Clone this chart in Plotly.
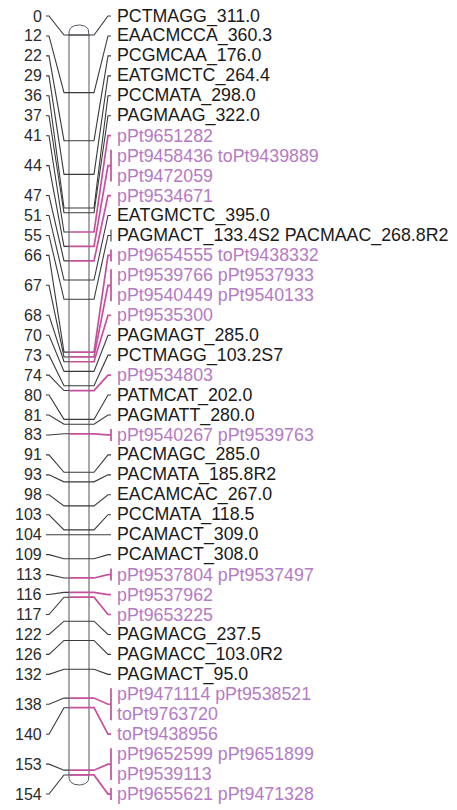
import numpy as np
import plotly.graph_objects as go

# ---------------- data ----------------
positions_cm = [0, 12, 22, 29, 36, 37, 41, 44, 47, 51, 55, 66, 67, 68, 70, 73, 74, 80, 81, 83,
                91, 93, 98, 103, 104, 109, 113, 116, 117, 122, 126, 132, 138, 140, 153, 154]

marker_rows = [
    ["PCTMAGG_311.0"],
    ["EAACMCCA_360.3"],
    ["PCGMCAA_176.0"],
    ["EATGMCTC_264.4"],
    ["PCCMATA_298.0"],
    ["PAGMAAG_322.0"],
    ["pPt9651282"],
    ["pPt9458436 toPt9439889", "pPt9472059"],
    ["pPt9534671"],
    ["EATGMCTC_395.0"],
    ["PAGMACT_133.4S2 PACMAAC_268.8R2"],
    ["pPt9654555 toPt9438332"],
    ["pPt9539766 pPt9537933", "pPt9540449 pPt9540133"],
    ["pPt9535300"],
    ["PAGMAGT_285.0"],
    ["PCTMAGG_103.2S7"],
    ["pPt9534803"],
    ["PATMCAT_202.0"],
    ["PAGMATT_280.0"],
    ["pPt9540267 pPt9539763"],
    ["PACMAGC_285.0"],
    ["PACMATA_185.8R2"],
    ["EACAMCAC_267.0"],
    ["PCCMATA_118.5"],
    ["PCAMACT_309.0"],
    ["PCAMACT_308.0"],
    ["pPt9537804 pPt9537497"],
    ["pPt9537962"],
    ["pPt9653225"],
    ["PAGMACG_237.5"],
    ["PAGMACC_103.0R2"],
    ["PAGMACT_95.0"],
    ["pPt9471114 pPt9538521", "toPt9763720"],
    ["toPt9438956"],
    ["pPt9652599 pPt9651899", "pPt9539113"],
    ["pPt9655621 pPt9471328"],
]

tick_labels = [str(p) for p in positions_cm]

# ---------------- layout helpers ----------------
W, H = 457, 810
PX_PER_CM = 4.805
CM0_PX = 35.0
ROW0_PX = 16.0
ROW_STEP_PX = 19.95


def px_to_cm(px):
    return (px - CM0_PX) / PX_PER_CM


Y_RANGE = [px_to_cm(H), px_to_cm(0)]

BAR_L, BAR_R = 69, 89
LEFT_TXT_X = 44
RIGHT_TXT_X = 115

DARK = "#3a3a3a"
BAR_COL = "#4f5563"
PINK_LINE = "#c4509e"
PINK_TXT = "#b57ac4"
BLACK_TXT = "#1a1a1a"

fig = go.Figure()

# row positions
row_idx = 0
groups = []
for cm, rows in zip(positions_cm, marker_rows):
    idxs = list(range(row_idx, row_idx + len(rows)))
    row_idx += len(rows)
    ys = [px_to_cm(ROW0_PX + ROW_STEP_PX * i) for i in idxs]
    is_pink = rows[0].startswith("pPt") or rows[0].startswith("toPt")
    n_names = sum(len(r.split()) for r in rows)
    groups.append(dict(cm=cm, rows=rows, ys=ys, pink=is_pink, multi=n_names > 1))

# chromosome body (white fill)
fig.add_trace(go.Scatter(
    x=[BAR_L, BAR_R, BAR_R, BAR_L, BAR_L],
    y=[positions_cm[0], positions_cm[0], positions_cm[-1], positions_cm[-1], positions_cm[0]],
    mode="lines", line=dict(color=BAR_COL, width=1), fill="toself", fillcolor="white",
    hoverinfo="skip", showlegend=False))

# caps
t = np.linspace(0, np.pi, 40)
cx = (BAR_L + BAR_R) / 2
rx = (BAR_R - BAR_L) / 2
cap_h = 10 / PX_PER_CM
top_x = cx + rx * np.cos(t)
top_y = positions_cm[0] - cap_h * np.sin(t) ** 0.6
bot_y = positions_cm[-1] + cap_h * np.sin(t) ** 0.6
for yy in (top_y, bot_y):
    fig.add_trace(go.Scatter(x=top_x, y=yy, mode="lines", line=dict(color=BAR_COL, width=1),
                             hoverinfo="skip", showlegend=False))

# connectors
dx_left, dy_left = [], []
dx_dark, dy_dark = [], []
dx_pink, dy_pink = [], []
ext = 6 / PX_PER_CM
for g in groups:
    cy = g["cm"]
    ly = float(np.mean(g["ys"]))
    # left connector
    dx_left += [LEFT_TXT_X + 2, 49, 64, BAR_L, None]
    dy_left += [ly, ly, cy, cy, None]
    xs = [BAR_L, BAR_R, 94, 108, 111, None]
    ys = [cy, cy, cy, ly, ly, None]
    if g["multi"]:
        xs += [111, 111, None]
        ys += [g["ys"][0] - ext, g["ys"][-1] + ext, None]
    if g["pink"]:
        dx_pink += xs
        dy_pink += ys
    else:
        dx_dark += xs
        dy_dark += ys

fig.add_trace(go.Scatter(x=dx_left, y=dy_left, mode="lines", line=dict(color=DARK, width=1.1),
                         hoverinfo="skip", showlegend=False))
fig.add_trace(go.Scatter(x=dx_dark, y=dy_dark, mode="lines", line=dict(color=DARK, width=1.1),
                         hoverinfo="skip", showlegend=False))
fig.add_trace(go.Scatter(x=dx_pink, y=dy_pink, mode="lines", line=dict(color=PINK_LINE, width=1.7),
                         hoverinfo="skip", showlegend=False))

FONT = "Liberation Sans, Arial, sans-serif"
annos = []
for g, lab in zip(groups, tick_labels):
    annos.append(dict(x=LEFT_TXT_X, y=float(np.mean(g["ys"])), text=lab, showarrow=False,
                      xanchor="right", yanchor="middle", xref="x", yref="y",
                      font=dict(family=FONT, size=16, color="#2a2a2a")))
    for r, yv in zip(g["rows"], g["ys"]):
        annos.append(dict(x=RIGHT_TXT_X, y=yv, text=r, showarrow=False,
                          xanchor="left", yanchor="middle", xref="x", yref="y",
                          font=dict(family=FONT, size=17.8,
                                    color=PINK_TXT if g["pink"] else BLACK_TXT)))

fig.update_layout(
    width=W, height=H, margin=dict(l=0, r=0, t=0, b=0),
    paper_bgcolor="white", plot_bgcolor="white",
    xaxis=dict(range=[0, W], visible=False, fixedrange=True),
    yaxis=dict(range=Y_RANGE, visible=False, fixedrange=True),
    annotations=annos, showlegend=False,
)

fig.write_html("out.html")
